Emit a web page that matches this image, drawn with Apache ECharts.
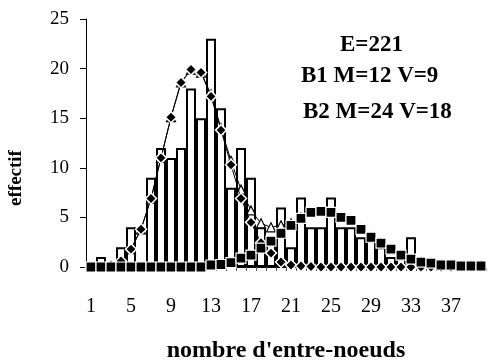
<!DOCTYPE html>
<html><head><meta charset="utf-8">
<script src="https://cdn.jsdelivr.net/npm/echarts@6/dist/echarts.min.js"></script>
<style>html,body{margin:0;padding:0;background:#fff}#c{width:488px;height:362px}</style>
</head><body><div id="c"></div>
<script>
var categories = [];
for (var i = 1; i <= 40; i++) categories.push(String(i));
var observed = [0,1,0,2,4,0,9,12,11,12,18,15,23,16,8,12,9,4,3,6,2,7,4,4,7,4,4,3,3,2,1,1,3,0,0,0,0,0,0,0];
var fitB1 = [0,0.1,0.2,0.6,1.8,3.8,6.9,11.0,15.1,18.6,19.9,19.6,17.2,13.8,10.3,6.9,4.5,2.45,1.4,0.5,0.2,0.1,0.05,0,0,0,0,0,0,0,0,0,0,0,0,0,0,0,0,0];
var fitB2 = [0,0,0,0,0,0,0,0,0,0,0,0,0.2,0.25,0.45,0.9,1.2,1.9,2.6,3.4,4.2,4.9,5.5,5.6,5.5,5.0,4.7,3.8,3.0,2.4,1.8,1.2,0.8,0.5,0.4,0.2,0.2,0.1,0.1,0.1];
var fitSum = [0,0.1,0.2,0.6,1.8,3.8,6.9,11.0,15.1,18.6,19.9,19.6,17.4,14.0,10.7,7.8,5.7,4.4,4.0,4.2,4.4,5.0,5.5,5.6,5.5,5.0,4.7,3.8,3.0,2.4,1.8,1.2,0.8,0.5,0.4,0.2,0.2,0.1,0.1,0.1];
var yTicks = [0,5,10,15,20,25];
var notes = ['E=221', 'B1 M=12 V=9', 'B2 M=24 V=18'];

var chart = echarts.init(document.getElementById('c'), null, {renderer:'canvas'});
var font = '"Liberation Serif", "Times New Roman", serif';
chart.setOption({
  animation: false,
  backgroundColor: '#fff',
  textStyle: {fontFamily: font, color: '#000'},
  grid: {left: 86, right: 2, top: 19, bottom: 95, containLabel: false, outerBoundsMode: 'none'},
  xAxis: {
    type: 'category', data: categories, boundaryGap: true,
    axisLine: {show: true, lineStyle: {color: '#000', width: 1}},
    axisTick: {show: true, interval: 0, length: 4, lineStyle: {color: '#555', width: 1}},
    axisLabel: {interval: 3, margin: 30, fontSize: 20, color: '#000', fontFamily: font},
    name: "nombre d'entre-noeuds", nameLocation: 'middle', nameGap: 72,
    nameTextStyle: {fontSize: 24, fontWeight: 'bold', color: '#000', fontFamily: font}
  },
  yAxis: {
    type: 'value', min: 0, max: 25, interval: 5,
    axisLine: {show: true, lineStyle: {color: '#000', width: 1}},
    axisTick: {show: true, length: 6, lineStyle: {color: '#000'}},
    splitLine: {show: false},
    axisLabel: {margin: 17, fontSize: 19, color: '#000', fontFamily: font}
  },
  graphic: [
    {type: 'text', x: 16, y: 178, rotation: Math.PI / 2, style: {text: 'effectif', font: 'bold 19px ' + font, fill: '#000', align: 'center', verticalAlign: 'middle'}},
    {type: 'text', left: 340, top: 34, style: {text: notes[0], font: 'bold 23px ' + font, fill: '#000'}},
    {type: 'text', left: 301, top: 65, style: {text: notes[1], font: 'bold 23px ' + font, fill: '#000'}},
    {type: 'text', left: 303, top: 101, style: {text: notes[2], font: 'bold 23px ' + font, fill: '#000'}}
  ],
  series: [
    {type: 'bar', data: observed, barCategoryGap: '0%', z: 1,
     itemStyle: {color: '#fff', borderColor: '#000', borderWidth: 2}},
    {type: 'line', data: fitSum, z: 3, symbol: 'triangle', symbolSize: 9, showAllSymbol: true,
     lineStyle: {color: '#000', width: 1},
     itemStyle: {color: '#fff', borderColor: '#000', borderWidth: 1.2}},
    {type: 'line', data: fitB1, z: 4, symbol: 'diamond', symbolSize: 11, showAllSymbol: true,
     lineStyle: {color: '#000', width: 1},
     itemStyle: {color: '#000', borderColor: '#fff', borderWidth: 1.5}},
    {type: 'line', data: fitB2, z: 5, symbol: 'rect', symbolSize: 10, showAllSymbol: true,
     lineStyle: {color: '#000', width: 1},
     itemStyle: {color: '#000', borderColor: '#fff', borderWidth: 1.2}}
  ]
});
</script></body></html>
